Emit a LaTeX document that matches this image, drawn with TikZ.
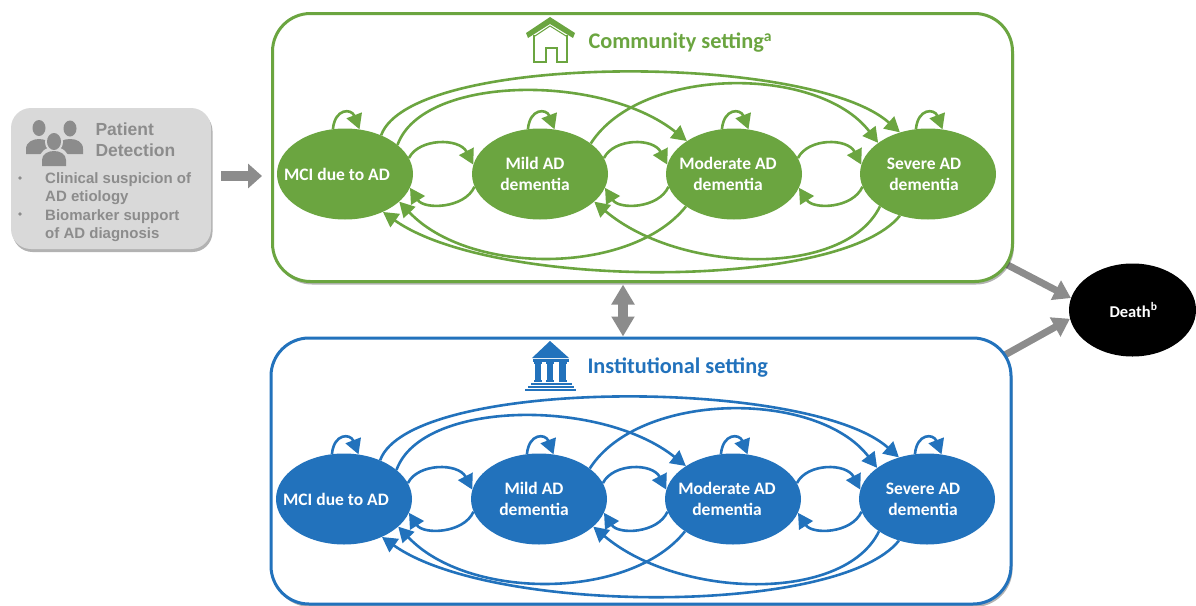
\documentclass[tikz,border=0pt]{standalone}
\usepackage{fontspec}
\setmainfont{Carlito}
\newfontfamily\arialf{Liberation Sans}
\usetikzlibrary{arrows.meta,shapes.geometric,shadows,backgrounds,calc}
\definecolor{cgreen}{HTML}{6BA540}
\definecolor{cblue}{HTML}{2272BC}
\definecolor{cgray}{HTML}{8C8C8C}
\definecolor{cbox}{HTML}{D9D9D9}
\tikzset{
  x=1pt,y=-1pt,
  panelbox/.style={draw=#1,line width=3pt,fill=white,rounded corners=38pt,minimum width=740pt,inner sep=0pt,
    drop shadow={shadow xshift=1.5pt,shadow yshift=-3pt,fill=black,opacity=.3}},
  stagenode/.style={ellipse,fill=#1,minimum width=136pt,minimum height=91pt,inner sep=0pt},
  stagetext/.style={font=\bfseries\fontsize{17.5}{21}\selectfont,text=white,align=center},
  flow/.style={draw=#1,line width=2.6pt,-{Triangle[length=15pt,width=16pt]},fill=none},
  heading/.style={font=\bfseries\fontsize{22.3}{26}\selectfont,text=#1,anchor=west},
  greyarrow/.style={draw=cgray,line width=7pt,-{Triangle[length=17pt,width=21pt]}},
  patienthead/.style={font=\arialf\bfseries\fontsize{17.5}{21.5}\selectfont,text=cgray,align=left,anchor=north west},
  patientbody/.style={font=\arialf\bfseries\fontsize{15}{18.3}\selectfont,text=cgray,align=left,anchor=north west},
}
\newcommand{\stagerow}[3]{% prefix, colour, (shift)
\begin{scope}[shift={#3}]
  \node[stagenode=#2,label={[stagetext,xshift=-8pt]center:MCI due to AD}] (#1a) at (345,174) {};
  \node[stagenode=#2,label={[stagetext,xshift=-5pt]center:Mild AD\\dementia}] (#1b) at (540,174) {};
  \node[stagenode=#2,label={[stagetext,xshift=-6pt]center:Moderate AD\\dementia}] (#1c) at (734,174) {};
  \node[stagenode=#2,label={[stagetext,xshift=-4pt]center:Severe AD\\dementia}] (#1d) at (928,174) {};
  % self loops
  \foreach \n in {a,b,c,d}{
    \draw[flow=#2] (#1\n.105) .. controls +(2,-21) and +(-8,-21) .. (#1\n.72);
  }
  % neighbour arcs
  \foreach \p/\q in {a/b,b/c,c/d}{
    \draw[flow=#2] (#1\p.14) .. controls +(10,-20) and +(-14,-27) .. (#1\q.172);
    \draw[flow=#2] (#1\q.191) .. controls +(-10,22) and +(14,22) .. (#1\p.-12);
  }
  % long arcs above
  \draw[flow=#2] (#1a.47) .. controls +(30,-83) and +(-90,-80) .. (#1d.124);
  \draw[flow=#2] (#1a.29) .. controls +(25,-70) and +(-85,-68) .. (#1c.145);
  \draw[flow=#2] (#1b.31) .. controls +(50,-78) and +(-60,-78) .. (#1d.148);
  % long arcs below
  \draw[flow=#2] (#1d.236) .. controls +(-60,75) and +(110,78) .. (#1a.-45);
  \draw[flow=#2] (#1c.214) .. controls +(-55,69) and +(70,74) .. (#1a.-27);
  \draw[flow=#2] (#1d.214) .. controls +(-35,72) and +(85,72) .. (#1b.-27);
\end{scope}
}
\begin{document}
\begin{tikzpicture}
\clip (0,0) rectangle (1196,605);

% panels
\node[panelbox=cgreen,minimum height=268pt] (comm) at (642.5,147.5) {};
\node[panelbox=cblue,minimum height=266pt] (inst) at (641,471) {};

\stagerow{g}{cgreen}{(0,0)}
\stagerow{u}{cblue}{(-1,325)}

% headings
\node[heading=cgreen] (commtitle) at (585,43) {Community setting\textsuperscript{a}};
\node[heading=cblue] (insttitle) at (584,368) {Institutional setting};

% house icon
\fill[cgreen] (526,33) -- (550,17) -- (575,33) -- (573,38) -- (550,24) -- (528,38) -- cycle;
\draw[cgreen,line width=1pt] (535,36) -- (550,26) -- (566,36);
\draw[cgreen,line width=2.4pt,line join=miter] (534,35) -- (534,62) -- (546,62) -- (546,48) -- (557,48) -- (557,62) -- (567,62) -- (567,35);

% institution icon
\fill[cblue] (550,341) -- (569,358) -- (532,358) -- cycle;
\fill[cblue] (533,359) rectangle (569,362);
\foreach \cx in {538,550,562.5}{
  \fill[cblue] (\cx-3.2,363) rectangle (\cx+3.2,381);
  \fill[cblue] (\cx-4,362) rectangle (\cx+4,364);
  \fill[cblue] (\cx-4,380) rectangle (\cx+4,382);
}
\fill[cblue] (531,383) rectangle (572,385);
\fill[cblue] (528,386) rectangle (574,388);
\fill[cblue] (525,389) rectangle (576,391);

% death
\node[ellipse,fill=black,minimum width=127pt,minimum height=93pt,inner sep=0pt,text=white,
  font=\bfseries\fontsize{16.5}{18}\selectfont] (death) at (1132.5,310) {\raisebox{-4pt}{\hspace{2pt}Death\textsuperscript{b}}};

% grey connectors behind the panels
\begin{scope}[on background layer]
  \draw[greyarrow] ($(comm.south east)+(-14,-22)$) -- (death.169);
  \draw[greyarrow] ($(inst.north east)+(-14,22)$) -- (death.188);
\end{scope}

% double arrow between panels
\draw[draw=cgray,line width=10pt,{Triangle[length=20pt,width=22pt]}-{Triangle[length=20pt,width=22pt]}] (comm.south -| 623,0) ++(0,1.5) -- (inst.north -| 623,0);

% patient box
\node[fill=cbox,rounded corners=20pt,minimum width=200pt,minimum height=141pt,inner sep=0pt,
  drop shadow={shadow xshift=1.5pt,shadow yshift=-3pt,fill=black,opacity=.3}] (patient) at (111,178.5) {};
\node[patienthead] (ptitle) at (92,119) {Patient\\\hspace{0pt}Detection};
\node[patientbody] (plist) at (41.7,169) {Clinical suspicion of\\AD etiology\\Biomarker support\\of AD diagnosis};
\fill[cgray] (20,178) circle (1.8);
\fill[cgray] (20,214) circle (1.8);

% people icon
\fill[cgray] (39,128) ellipse (6.5 and 8);
\fill[cgray] (70,128.5) ellipse (6.5 and 8);
\fill[cgray] (26,154) -- (26,149) .. controls (26,142) and (33,139) .. (39,139) .. controls (45,139) and (52,142) .. (53,149) -- (53,154) -- cycle;
\fill[cgray] (56,154) -- (56,149) .. controls (57,142) and (63,139) .. (70,139) .. controls (77,139) and (83,142) .. (83,149) -- (83,154) -- cycle;
\fill[cbox] (54,142) ellipse (9 and 10);
\fill[cbox] (39,166) -- (39,160) .. controls (39,152) and (46,147) .. (54,147) .. controls (62,147) and (69,152) .. (69,160) -- (69,166) -- cycle;
\fill[cgray] (54,141.5) ellipse (7 and 8.5);
\fill[cgray] (42,166) -- (42,160) .. controls (42,154) and (48,151) .. (54,151) .. controls (60,151) and (66,154) .. (66,160) -- (66,166) -- cycle;

% arrow from patient box to community setting
\coordinate (pstart) at (221,176);
\coordinate (pend) at (262,176);
\draw[draw=cgray,line width=10pt,-{Triangle[length=14pt,width=24pt]}] (pstart) -- (pend);
\end{tikzpicture}
\end{document}
